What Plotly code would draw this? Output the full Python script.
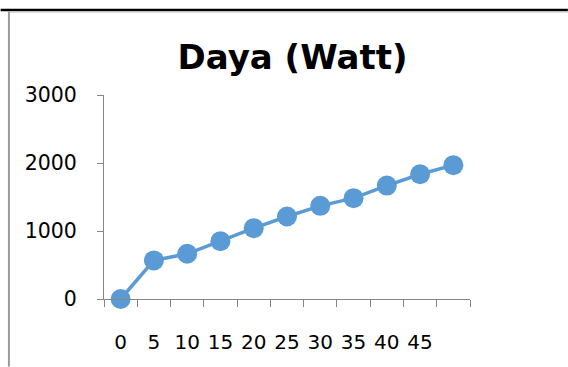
import plotly.graph_objects as go

# Data
x_labels = ["0", "5", "10", "15", "20", "25", "30", "35", "40", "45", " "]
daya_watt = [0, 567, 665, 851, 1042, 1213, 1370, 1483, 1668, 1835, 1968]
y_ticks = [0, 1000, 2000, 3000]

W, H = 568, 367
ML, MR, MT, MB = 103.5, 98, 95, 67.7
PW = W - ML - MR
PH = H - MT - MB


def px(x):
    return (x - ML) / PW


def py(y):
    return (H - MB - y) / PH


BLUE = "#5B9BD5"
AXIS = "#868686"

fig = go.Figure()
fig.add_trace(go.Scatter(
    x=x_labels, y=daya_watt, mode="lines+markers",
    line=dict(color=BLUE, width=3.5),
    marker=dict(color=BLUE, size=20),
    cliponaxis=False, showlegend=False,
))

fig.update_layout(
    width=W, height=H,
    margin=dict(l=ML, r=MR, t=MT, b=MB, pad=0, autoexpand=False),
    paper_bgcolor="white", plot_bgcolor="white",
    font=dict(family="DejaVu Sans", color="black"),
    title=dict(text="<b>Daya (Watt)</b>", x=292.5 / W, xanchor="center",
               y=1 - 57.5 / H, yanchor="middle",
               font=dict(family="DejaVu Sans", size=34, color="black")),
    xaxis=dict(type="category", categoryorder="array", categoryarray=x_labels,
               range=[-0.5, len(x_labels) - 0.5], automargin=False, tickangle=0,
               showgrid=False, zeroline=False, showline=True, linecolor=AXIS, linewidth=1,
               ticks="outside", ticklen=7, tickcolor=AXIS, tickwidth=1, tickson="boundaries",
               tickfont=dict(size=20, color="black"), ticklabelstandoff=25),
    yaxis=dict(range=[0, 3000], tickvals=y_ticks, showgrid=False, zeroline=False,
               automargin=False,
               showline=True, linecolor=AXIS, linewidth=1,
               ticks="outside", ticklen=6, tickcolor=AXIS, tickwidth=1,
               tickfont=dict(size=20.5, color="black"), ticklabelstandoff=16),
    shapes=[
        dict(type="line", xref="paper", yref="paper", x0=px(0), x1=px(W), y0=py(10), y1=py(10),
             line=dict(color="black", width=2.5)),
        dict(type="line", xref="paper", yref="paper", x0=px(8), x1=px(W), y0=py(12), y1=py(12),
             line=dict(color="#C8C8C8", width=1)),
        dict(type="line", xref="paper", yref="paper", x0=px(8.3), x1=px(8.3), y0=py(11.5), y1=py(H),
             line=dict(color="#9A9A9A", width=2)),
    ],
)

fig.write_html("out.html")
